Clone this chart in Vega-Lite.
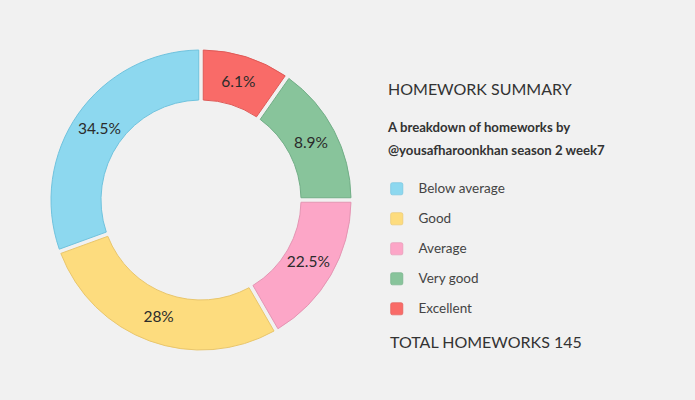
{
  "$schema": "https://vega.github.io/schema/vega-lite/v6.json",
  "width": 402,
  "height": 400,
  "autosize": {"type": "none"},
  "padding": {"left": 0, "top": 0, "right": 293, "bottom": 0},
  "background": "#f1f1f1",
  "title": {
    "text": "HOMEWORK SUMMARY",
    "subtitle": ["A breakdown of homeworks by", "@yousafharoonkhan season 2 week7"],
    "anchor": "start",
    "frame": "group",
    "orient": "top",
    "dx": 388,
    "dy": 161,
    "font": "Lato",
    "fontSize": 16,
    "fontWeight": "normal",
    "color": "#333333",
    "subtitleFont": "Lato",
    "subtitleFontSize": 13.2,
    "subtitleFontWeight": "bold",
    "subtitleColor": "#333333",
    "subtitlePadding": 24,
    "subtitleLineHeight": 23
  },
  "data": {
    "values": [
      {"category": "Excellent", "seq": 1, "angle": 35, "label": "6.1%"},
      {"category": "Very good", "seq": 2, "angle": 55, "label": "8.9%"},
      {"category": "Average", "seq": 3, "angle": 60, "label": "22.5%"},
      {"category": "Good", "seq": 4, "angle": 100, "label": "28%"},
      {"category": "Below average", "seq": 5, "angle": 110, "label": "34.5%"}
    ]
  },
  "encoding": {
    "theta": {"field": "angle", "type": "quantitative", "stack": true},
    "order": {"field": "seq", "type": "quantitative"}
  },
  "layer": [
    {
      "mark": {"type": "arc", "innerRadius": 100, "outerRadius": 150, "padAngle": 0.025, "strokeWidth": 1},
      "encoding": {
        "color": {
          "field": "category",
          "type": "nominal",
          "scale": {
            "domain": ["Below average", "Good", "Average", "Very good", "Excellent"],
            "range": ["#8dd8ef", "#fddc7e", "#fca6c7", "#88c49b", "#f96b68"]
          },
          "legend": {
            "title": "TOTAL HOMEWORKS 145",
            "orient": "none",
            "legendX": 390,
            "legendY": 182,
            "titleOrient": "bottom",
            "titleFont": "Lato",
            "titleFontSize": 16,
            "titleFontWeight": "normal",
            "titleColor": "#333333",
            "titlePadding": 19,
            "titleAnchor": "start",
            "titleLimit": 400,
            "labelFont": "Lato",
            "labelFontSize": 13.5,
            "labelColor": "#444444",
            "labelOffset": 15,
            "labelLimit": 300,
            "symbolType": "M -1 -0.7 Q -1 -1 -0.7 -1 L 0.7 -1 Q 1 -1 1 -0.7 L 1 0.7 Q 1 1 0.7 1 L -0.7 1 Q -1 1 -1 0.7 Z",
            "symbolSize": 150,
            "symbolOpacity": 1,
            "symbolStrokeColor": "#999999",
            "symbolStrokeWidth": 0.6,
            "rowPadding": 14,
            "padding": 0
          }
        },
        "stroke": {
          "field": "category",
          "type": "nominal",
          "scale": {
            "domain": ["Below average", "Good", "Average", "Very good", "Excellent"],
            "range": ["#70c3de", "#e9c66c", "#e495b3", "#72ae87", "#df5a57"]
          },
          "legend": null
        }
      }
    },
    {
      "mark": {"type": "text", "radius": 124, "font": "Lato", "fontSize": 15.5, "color": "#2b2b2b"},
      "encoding": {
        "text": {"field": "label", "type": "nominal"}
      }
    }
  ]
}
